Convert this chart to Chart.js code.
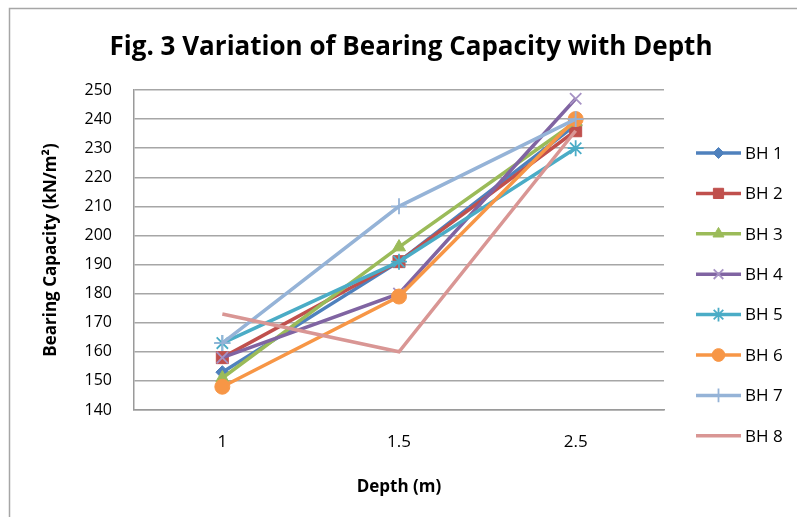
<!DOCTYPE html>
<html>
<head>
<meta charset="utf-8">
<script src="https://cdn.jsdelivr.net/npm/chart.js@4.4.1/dist/chart.umd.min.js"></script>
<style>
  html, body { margin: 0; padding: 0; background: #fff; }
  #wrap { width: 797px; height: 517px; }
</style>
</head>
<body>
<div id="wrap"><canvas id="bearingChart"></canvas></div>
<script>
// Depth categories and bearing capacity (kN/m2) per borehole
const depths = ['1', '1.5', '2.5'];
const bh1 = [153, 191, 238];
const bh2 = [158, 191, 236];
const bh3 = [151, 196, 239];
const bh4 = [158, 180, 247];
const bh5 = [163, 191, 230];
const bh6 = [148, 179, 240];
const bh7 = [163, 210, 240];
const bh8 = [173, 160, 236];
const yTicks = [140, 150, 160, 170, 180, 190, 200, 210, 220, 230, 240, 250];

const FONT = 'Open Sans, Noto Sans, sans-serif';

const series = [
  { label: 'BH 1', data: bh1, color: '#4F81BD', style: 'rectRot', r: 6.5 },
  { label: 'BH 2', data: bh2, color: '#C0504D', style: 'rect', r: 8.5 },
  { label: 'BH 3', data: bh3, color: '#9BBB59', style: 'triangle', r: 7.5 },
  { label: 'BH 4', data: bh4, color: '#8064A2', style: 'crossRot', r: 8, mark: '#A692C4' },
  { label: 'BH 5', data: bh5, color: '#4BACC6', style: 'star', r: 8 },
  { label: 'BH 6', data: bh6, color: '#F79646', style: 'circle', r: 7.5 },
  { label: 'BH 7', data: bh7, color: '#95B3D7', style: 'cross', r: 8 },
  { label: 'BH 8', data: bh8, color: '#D99694', style: false, r: 0 }
];

const lineStyles = ['crossRot', 'star', 'cross'];

// Frame, title and the line+marker legend drawn by hand
const decorPlugin = {
  id: 'decor',
  beforeDraw(chart) {
    const ctx = chart.ctx;
    ctx.save();
    ctx.strokeStyle = '#a6a6a6';
    ctx.lineWidth = 1.5;
    ctx.strokeRect(9.5, 8.5, 1000, 1000);
    ctx.restore();
  },
  afterDraw(chart) {
    const ctx = chart.ctx;
    ctx.save();
    ctx.fillStyle = '#000';
    ctx.font = 'bold 26px ' + FONT;
    ctx.textAlign = 'center';
    ctx.textBaseline = 'middle';
    ctx.fillText('Fig. 3 Variation of Bearing Capacity with Depth', 411, 48);

    chart.data.datasets.forEach((ds, i) => {
      const y = 153 + i * 40.4;
      ctx.strokeStyle = ds.borderColor;
      ctx.lineWidth = 3.5;
      ctx.beginPath();
      ctx.moveTo(696, y);
      ctx.lineTo(741, y);
      ctx.stroke();
      if (ds.pointStyle) {
        ctx.fillStyle = ds.pointBackgroundColor;
        ctx.strokeStyle = ds.pointBorderColor;
        ctx.lineWidth = ds.pointBorderWidth;
        Chart.helpers.drawPoint(ctx, {
          pointStyle: ds.pointStyle,
          radius: ds.pointRadius * 0.85,
          rotation: 0,
          borderWidth: ds.pointBorderWidth
        }, 718.5, y);
      }
      ctx.fillStyle = '#000';
      ctx.font = '17px ' + FONT;
      ctx.textAlign = 'left';
      ctx.fillText(ds.label, 745, y + 1);
    });
    ctx.restore();
  }
};

new Chart(document.getElementById('bearingChart'), {
  type: 'line',
  data: {
    labels: depths,
    datasets: series.map((s, i) => ({
      label: s.label,
      data: s.data,
      borderColor: s.color,
      backgroundColor: s.color,
      borderWidth: 3.5,
      pointStyle: s.style,
      pointRadius: s.r,
      pointHoverRadius: s.r,
      pointBackgroundColor: s.color,
      pointBorderColor: s.mark || s.color,
      pointBorderWidth: lineStyles.includes(s.style) ? 1.8 : 1,
      tension: 0,
      order: series.length - i
    }))
  },
  options: {
    responsive: true,
    maintainAspectRatio: false,
    animation: false,
    layout: {
      padding: { top: 90, left: 10, right: 133, bottom: 0 }
    },
    plugins: {
      legend: { display: false },
      title: { display: false },
      tooltip: { enabled: false }
    },
    scales: {
      x: {
        offset: true,
        afterFit: scale => { scale.height = 107; },
        grid: { display: false, drawTicks: false },
        border: { color: '#9a9a9a', width: 1.5 },
        ticks: {
          color: '#000',
          padding: 22,
          font: { family: FONT, size: 17 }
        },
        title: {
          display: true,
          text: 'Depth (m)',
          color: '#000',
          padding: { top: 0, bottom: 20 },
          font: { family: FONT, size: 17, weight: 'bold' }
        }
      },
      y: {
        min: 140,
        max: 250,
        afterFit: scale => { scale.width = 124; },
        afterBuildTicks: scale => { scale.ticks = yTicks.map(v => ({ value: v })); },
        grid: { color: '#a6a6a6', lineWidth: 1.5, drawTicks: false },
        border: { color: '#9a9a9a', width: 1.5 },
        ticks: {
          color: '#000',
          padding: 22,
          font: { family: FONT, size: 16 }
        },
        title: {
          display: true,
          text: 'Bearing Capacity (kN/m²)',
          color: '#000',
          padding: { top: 31, bottom: 0 },
          font: { family: FONT, size: 17, weight: 'bold' }
        }
      }
    }
  },
  plugins: [decorPlugin]
});
</script>
</body>
</html>
